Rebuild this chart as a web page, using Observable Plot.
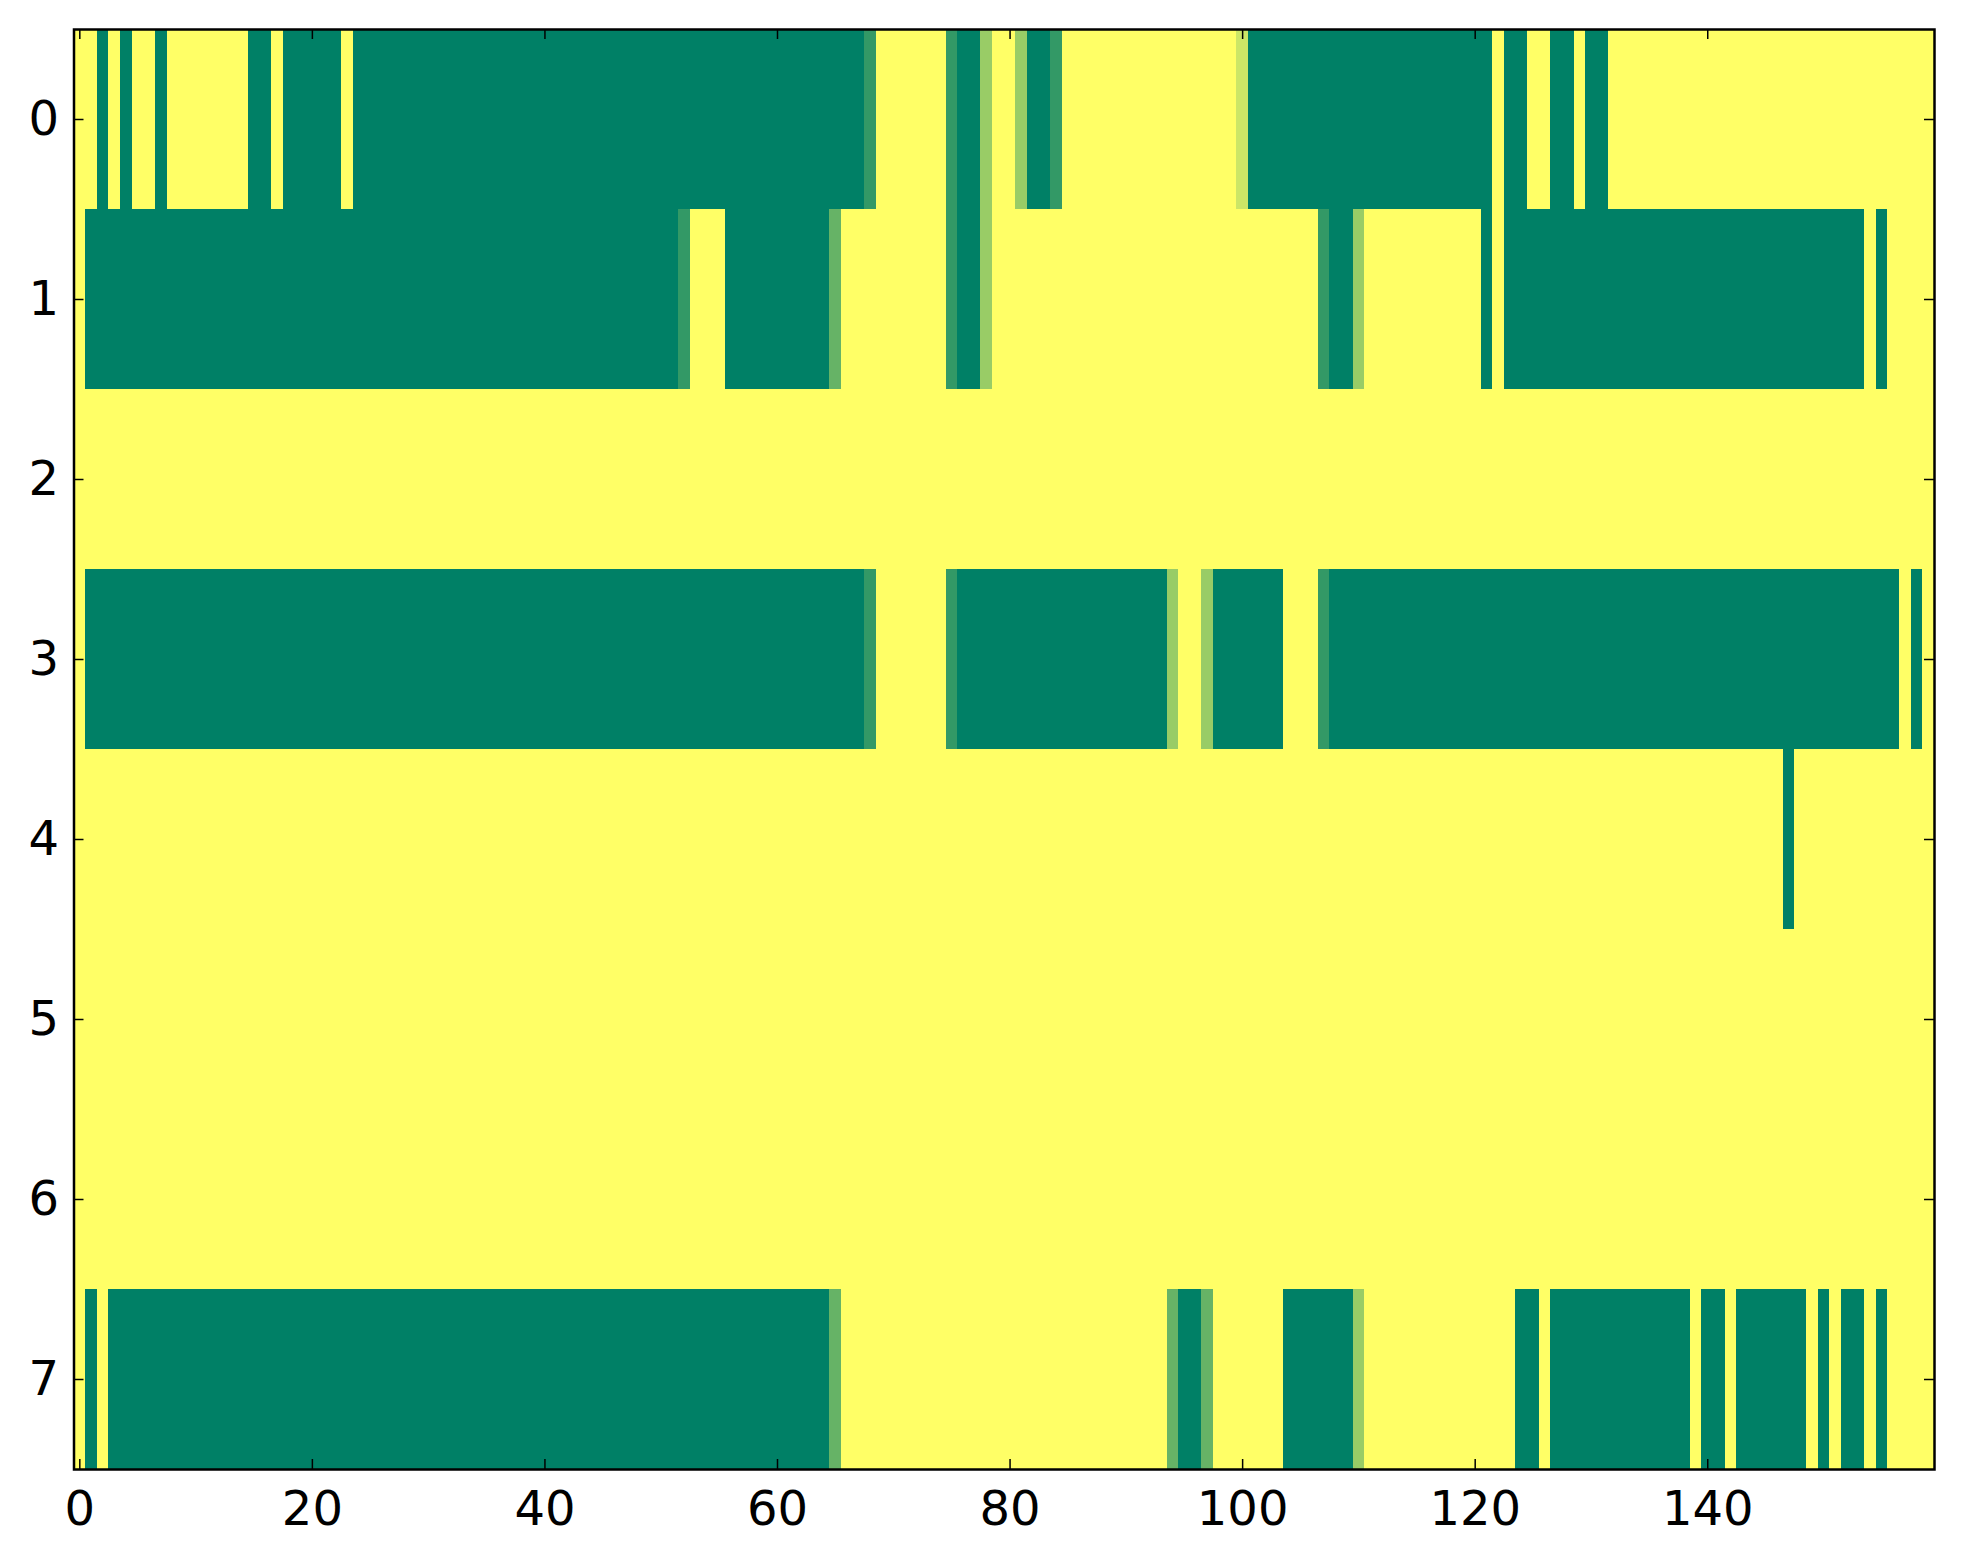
<!DOCTYPE html>
<html>
<head>
<meta charset="utf-8">
<script src="https://cdn.jsdelivr.net/npm/d3@7"></script>
<script src="https://cdn.jsdelivr.net/npm/@observablehq/plot@0.6"></script>
<style>
  html, body { margin: 0; padding: 0; background: #ffffff; }
  #chart { width: 1963px; height: 1564px; }
</style>
</head>
<body>
<div id="chart"></div>
<script>
// Each row: 160 cells, one character per cell; value = digit / 5
// (0 = green, 5 = yellow, 1..4 = intermediate shades), 10 cells per chunk.
const row0 = "5505055055"+"5555500500"+"0005000000"+"0000000000"+"0000000000"+"0000000000"+"0000000015"+"5555510035"+
             "5300155555"+"5555555555"+"4000000000"+"0000000000"+"0050055005"+"0055555555"+"5555555555"+"5555555555";
const row1 = "5000000000"+"0000000000"+"0000000000"+"0000000000"+"0000000000"+"0015550000"+"0000025555"+"5555510035"+
             "5555555555"+"5555555555"+"5555555100"+"3555555555"+"5050000000"+"0000000000"+"0000000000"+"0000505555";
const row2 = "5555555555"+"5555555555"+"5555555555"+"5555555555"+"5555555555"+"5555555555"+"5555555555"+"5555555555"+
             "5555555555"+"5555555555"+"5555555555"+"5555555555"+"5555555555"+"5555555555"+"5555555555"+"5555555555";
const row3 = "5000000000"+"0000000000"+"0000000000"+"0000000000"+"0000000000"+"0000000000"+"0000000015"+"5555510000"+
             "0000000000"+"0000355300"+"0000555100"+"0000000000"+"0000000000"+"0000000000"+"0000000000"+"0000000505";
const row4 = "5555555555"+"5555555555"+"5555555555"+"5555555555"+"5555555555"+"5555555555"+"5555555555"+"5555555555"+
             "5555555555"+"5555555555"+"5555555555"+"5555555555"+"5555555555"+"5555555555"+"5555555055"+"5555555555";
const row5 = "5555555555"+"5555555555"+"5555555555"+"5555555555"+"5555555555"+"5555555555"+"5555555555"+"5555555555"+
             "5555555555"+"5555555555"+"5555555555"+"5555555555"+"5555555555"+"5555555555"+"5555555555"+"5555555555";
const row6 = "5555555555"+"5555555555"+"5555555555"+"5555555555"+"5555555555"+"5555555555"+"5555555555"+"5555555555"+
             "5555555555"+"5555555555"+"5555555555"+"5555555555"+"5555555555"+"5555555555"+"5555555555"+"5555555555";
const row7 = "5050000000"+"0000000000"+"0000000000"+"0000000000"+"0000000000"+"0000000000"+"0000025555"+"5555555555"+
             "5555555555"+"5555200255"+"5555000000"+"3555555555"+"5555005000"+"0000000005"+"0050000005"+"0500505555";

const rows = [row0, row1, row2, row3, row4, row5, row6, row7];
const xTicks = [0, 20, 40, 60, 80, 100, 120, 140];
const yTicks = [0, 1, 2, 3, 4, 5, 6, 7];

// Merge consecutive equal cells into runs (same picture as one rect per cell).
const runs = [];
rows.forEach((s, r) => {
  let start = 0;
  for (let i = 1; i <= s.length; i++) {
    if (i === s.length || s[i] !== s[start]) {
      runs.push({row: r, c0: start, c1: i - 1, v: Number(s[start]) / 5});
      start = i;
    }
  }
});

const W = 1963, H = 1564;
const mL = 73.5, mR = 29, mT = 29, mB = 95;
const nCols = 160, nRows = 8;
const colPx = (W - mL - mR) / nCols;
const rowPx = (H - mT - mB) / nRows;
const tick = 10;
const tX = tick / colPx, tY = tick / rowPx;
const xMin = -0.5, xMax = nCols - 0.5, yMin = -0.5, yMax = nRows - 0.5;

const chart = Plot.plot({
  width: W,
  height: H,
  marginLeft: mL,
  marginRight: mR,
  marginTop: mT,
  marginBottom: mB,
  style: {fontFamily: "DejaVu Sans", fontSize: "48px", background: "#ffffff", color: "#000000"},
  x: {domain: [xMin, xMax], ticks: xTicks},
  y: {domain: [yMax, yMin], ticks: yTicks},
  color: {type: "linear", domain: [0, 1], range: ["#008066", "#ffff66"], interpolate: "rgb"},
  marks: [
    Plot.rect(runs, {
      x1: d => d.c0 - 0.5, x2: d => d.c1 + 0.5,
      y1: d => d.row - 0.5, y2: d => d.row + 0.5,
      fill: d => d.v, shapeRendering: "crispEdges"
    }),
    Plot.ruleX(xTicks, {x: d => d, y1: yMax, y2: yMax - tY, stroke: "black", strokeWidth: 1.5}),
    Plot.ruleX(xTicks, {x: d => d, y1: yMin, y2: yMin + tY, stroke: "black", strokeWidth: 1.5}),
    Plot.ruleY(yTicks, {y: d => d, x1: xMin, x2: xMin + tX, stroke: "black", strokeWidth: 1.5}),
    Plot.ruleY(yTicks, {y: d => d, x1: xMax, x2: xMax - tX, stroke: "black", strokeWidth: 1.5}),
    Plot.axisX({ticks: xTicks, tickSize: 0, tickPadding: 21, label: null, fontSize: 48}),
    Plot.axisY({ticks: yTicks, tickSize: 0, tickPadding: 15, label: null, fontSize: 48}),
    Plot.frame({stroke: "black", strokeWidth: 2.5})
  ]
});
document.getElementById("chart").appendChild(chart);
</script>
</body>
</html>
